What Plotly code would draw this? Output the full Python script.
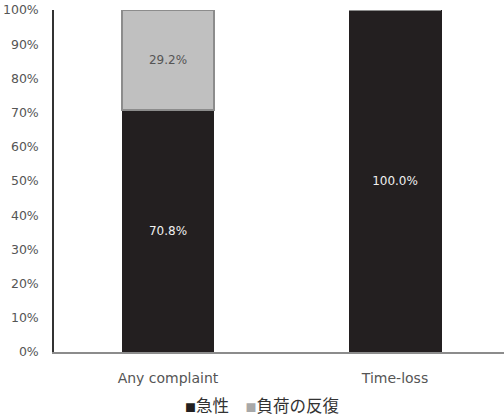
import plotly.graph_objects as go

categories = ["Any complaint", "Time-loss"]
acute = [70.8, 100.0]
repeated = [29.2, 0.0]
series_names = ["急性", "負荷の反復"]
series_colors = ["#231f20", "#c0c0c0"]
tick_vals = [0, 10, 20, 30, 40, 50, 60, 70, 80, 90, 100]
tick_text = [f"{v}%" for v in tick_vals]

CJK = "Noto Sans CJK JP, sans-serif"
LAT = "DejaVu Sans, sans-serif"

fig = go.Figure()
fig.add_trace(go.Bar(
    x=categories, y=acute, name=series_names[0],
    marker=dict(color=series_colors[0], line=dict(color=series_colors[0], width=1)),
    text=[f"{v:.1f}%" for v in acute], textposition="inside",
    insidetextanchor="middle",
    textfont=dict(color="#f0f0f0", size=12, family=LAT),
))
fig.add_trace(go.Bar(
    x=categories, y=repeated, name=series_names[1],
    marker=dict(color=series_colors[1], line=dict(color="#8c8c8c", width=1.5)),
    text=[f"{v:.1f}%" if v > 0 else "" for v in repeated], textposition="inside",
    insidetextanchor="middle",
    textfont=dict(color="#555555", size=12, family=LAT),
))

legend_text = (
    f"<span style='font-size:11px;color:{series_colors[0]}'>■</span>{series_names[0]}"
    f"<span style='font-family:DejaVu Sans'>&#8195;</span>"
    f"<span style='font-size:11px;color:#a8a8a8'>■</span>{series_names[1]}"
)
fig.add_annotation(
    text=legend_text, xref="paper", yref="paper", x=0.464, y=-0.155,
    xanchor="center", yanchor="middle", showarrow=False,
    font=dict(family=CJK, size=16.5, color="#333333"),
)

fig.update_layout(
    barmode="stack",
    bargap=0.595,
    width=504, height=418,
    margin=dict(l=54, r=0, t=10, b=66),
    paper_bgcolor="white", plot_bgcolor="white",
    font=dict(family=LAT, color="#555555", size=12),
    showlegend=False,
    uniformtext=dict(mode="show", minsize=12),
)
fig.update_xaxes(
    range=[-0.502, 1.48], showline=True, linecolor="#8c8c8c", linewidth=1.5,
    ticks="", ticklabelstandoff=12, tickfont=dict(size=14, color="#555555", family=LAT),
    showgrid=False,
)
fig.update_yaxes(
    range=[0, 100], tickvals=tick_vals, ticktext=tick_text,
    showline=True, linecolor="#333333", linewidth=1.5, showgrid=False,
    ticks="", ticklabelstandoff=11, tickfont=dict(size=12.5, color="#555555", family=LAT),
    zeroline=False,
)

fig.write_html("out.html")
